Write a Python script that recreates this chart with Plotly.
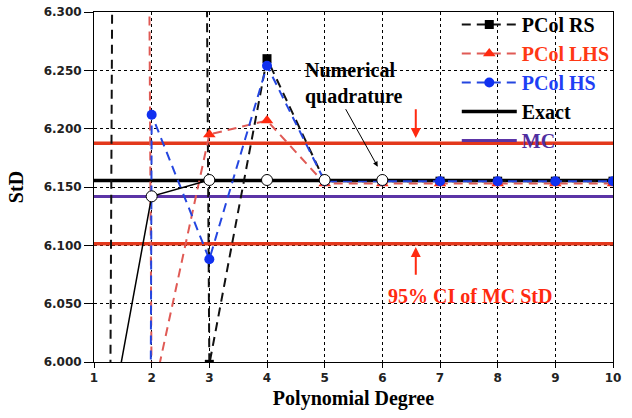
import plotly.graph_objects as go

# ---- data ----
degree = [1, 2, 3, 4, 5, 6, 7, 8, 9, 10]
pcol_rs = [2.96, 13.6, 5.998, 6.260, 6.155, 6.155, 6.155, 6.155, 6.155, 6.155]
pcol_lhs = [14.6, 5.967, 6.195, 6.207, 6.153, 6.153, 6.153, 6.153, 6.153, 6.153]
pcol_hs = [-8.0, 6.212, 6.088, 6.254, 6.155, 6.155, 6.155, 6.155, 6.155, 6.155]
nq_degree = [1, 2, 3, 4, 5, 6]
num_quad = [5.872, 6.142, 6.156, 6.156, 6.156, 6.156]
exact_std = 6.1556
mc_std = 6.1419
ci_low, ci_high = 6.1014, 6.1874
x_range = [1, 10]
y_range = [6.0, 6.3]
y_ticks = [6.000, 6.050, 6.100, 6.150, 6.200, 6.250, 6.300]

SERIF = "Liberation Serif, Times New Roman, serif"
SANS = "DejaVu Sans, Verdana, sans-serif"

fig = go.Figure()

# CI lines
for v in (ci_high, ci_low):
    fig.add_trace(go.Scatter(x=x_range, y=[v, v], mode="lines",
                             line=dict(color="#e3381c", width=3.5),
                             showlegend=False, hoverinfo="skip"))

fig.add_trace(go.Scatter(x=x_range, y=[mc_std, mc_std], mode="lines",
                         line=dict(color="#5b34a6", width=3),
                         name="<span style='color:#4f2ea0'>MC</span>",
                         legendrank=5))
fig.add_trace(go.Scatter(x=x_range, y=[exact_std, exact_std], mode="lines",
                         line=dict(color="black", width=3.5),
                         name="Exact", legendrank=4))

fig.add_trace(go.Scatter(x=degree, y=pcol_rs, mode="lines+markers",
                         line=dict(color="#111111", width=2, dash="9px,6px"),
                         marker=dict(symbol="square", size=9, color="black"),
                         name="PCol RS", legendrank=1))
fig.add_trace(go.Scatter(x=degree, y=pcol_lhs, mode="lines+markers",
                         line=dict(color="#e05a55", width=2, dash="9px,6px"),
                         marker=dict(symbol="triangle-up", size=11, color="#ff2a10"),
                         name="<span style='color:#ff3814'>PCol LHS</span>",
                         legendrank=2))
fig.add_trace(go.Scatter(x=degree, y=pcol_hs, mode="lines+markers",
                         line=dict(color="#2446e0", width=2, dash="9px,6px"),
                         marker=dict(symbol="circle", size=10, color="#1030f0"),
                         name="<span style='color:#1f3ff5'>PCol HS</span>",
                         legendrank=3))

fig.add_trace(go.Scatter(x=nq_degree, y=num_quad, mode="lines+markers",
                         line=dict(color="black", width=1.5),
                         marker=dict(symbol="circle", size=11, color="white",
                                     line=dict(color="black", width=1)),
                         showlegend=False, hoverinfo="skip"))

# annotations
fig.add_annotation(x=4.62, y=6.239, xref="x", yref="y", text="<b>Numerical<br>quadrature</b>",
                   showarrow=False, xanchor="left", align="left",
                   font=dict(family=SERIF, size=20, color="black"))
fig.add_annotation(x=5.92, y=6.1674, ax=5.35, ay=6.218, xref="x", yref="y",
                   axref="x", ayref="y", text="", showarrow=True,
                   arrowhead=2, arrowsize=1, arrowwidth=1, arrowcolor="black")
fig.add_annotation(x=6.58, y=6.192, ax=6.58, ay=6.218, xref="x", yref="y",
                   axref="x", ayref="y", text="", showarrow=True,
                   arrowhead=2, arrowsize=1, arrowwidth=2, arrowcolor="#ff2a10")
fig.add_annotation(x=6.58, y=6.0985, ax=6.58, ay=6.0734, xref="x", yref="y",
                   axref="x", ayref="y", text="", showarrow=True,
                   arrowhead=2, arrowsize=1, arrowwidth=2, arrowcolor="#ff2a10")
fig.add_annotation(x=7.52, y=6.0568, xref="x", yref="y", text="<b>95% CI of MC StD</b>",
                   showarrow=False, font=dict(family=SERIF, size=20, color="#ff2a10"))

fig.update_layout(
    width=632, height=418,
    margin=dict(l=94, r=19, t=12, b=56, autoexpand=False),
    paper_bgcolor="white", plot_bgcolor="white",
    showlegend=True,
    legend=dict(x=0.699, y=1.02, xanchor="left", yanchor="top",
                bgcolor="rgba(0,0,0,0)", borderwidth=0,
                font=dict(family=SERIF, size=20, color="black", weight="bold"),
                itemwidth=55),
    xaxis=dict(range=x_range, dtick=1, tick0=1,
               showgrid=True, gridcolor="black", griddash="dot", gridwidth=1,
               showline=True, linecolor="black", linewidth=1, mirror=True,
               ticks="outside", ticklen=5, tickcolor="black",
               tickfont=dict(family=SANS, size=12, color="#222", weight="bold"),
               zeroline=False,
               title=dict(text="<b>Polynomial Degree</b>", standoff=6,
                          font=dict(family=SERIF, size=20, color="black"))),
    yaxis=dict(range=y_range, tickvals=y_ticks, tickformat=".3f",
               showgrid=True, gridcolor="black", griddash="dot", gridwidth=1,
               showline=True, linecolor="black", linewidth=1, mirror=True,
               ticks="outside", ticklen=9, tickcolor="black",
               tickfont=dict(family=SANS, size=12, color="#222", weight="bold"),
               zeroline=False,
               title=dict(text="<b>StD</b>", standoff=14,
                          font=dict(family=SERIF, size=20, color="black"))),
)

fig.write_html("out.html")
